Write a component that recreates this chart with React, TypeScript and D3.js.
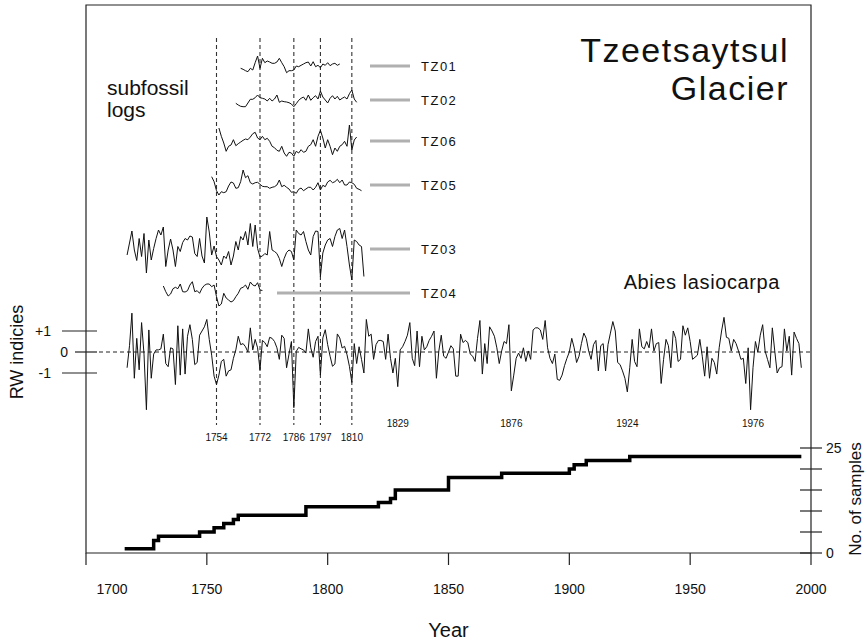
import React, { useEffect, useRef } from 'react';
import * as d3 from 'd3';

// Master ring-width chronology (Abies lasiocarpa), one value per year from chronStart
const chronStart = 1717;
const chronology = [
  -0.75, 0.3, 1.85, -1.25, 0.65, -0.85, 1.4, -0.1, -2.75, 1.05,
  -1.25, -0.1, 0.1, 0.1, 0.15, 0.85, -0.55, -0.7, 0.2, 0.15,
  -1.55, 1.25, -1.1, 1.1, -1.05, 0.75, 1.3, 0.6, -0.6, -0.5,
  0.8, 1.0, 1.2, 1.55, 0.6, -0.15, -1.15, -1.55, -1.1, -0.45,
  -0.35, -1.15, -0.9, -0.85, -0.3, 0.1, 0.75, 0.35, 0.4, 0.25,
  0.0, 1.15, 0.1, 0.6, 0.2, -0.85, 0.55, 0.45, 0.25, 0.7,
  0.65, 0.5, 0.2, -0.35, 0.8, 0.65, -0.75, -0.1, 0.5, -2.65,
  0.03, 0.22, 0.15, 0.1, -0.05, 1.1, 0.2, -0.25, 0.5, 0.75,
  -1.1, 0.67, 1.06, 0.35, -0.2, -0.68, -0.57, 0.86, 0.67, 0.19,
  0.27, -0.13, -0.68, -1.45, 0.4, -0.55, 0.25, -0.35, -1.0, 1.55,
  0.75, 0.85, -0.35, 0.35, 0.55, 0.55, 0.5, -0.35, 0.85, -0.3,
  -1.0, -0.3, -1.65, 0.1, 0.25, 0.5, 0.8, 1.4, -0.3, -0.65,
  1.0, -0.7, 0.75, 0.1, 0.25, 0.55, 0.75, 1.0, -1.25, 0.05,
  0.8, -0.2, -0.3, 0.0, 0.3, 0.15, -1.15, -1.15, 0.85, 0.45,
  0.55, 0.45, -0.1, -0.2, -0.45, 0.65, 1.5, -1.05, 0.4, -0.55,
  1.2, 1.0, 0.75, 0.2, -0.55, 0.05, 0.5, 0.4, 1.3, -1.85,
  -1.1, -0.3, -0.05, -0.3, 0.2, -0.45, 0.05, -0.35, 1.05, 1.15,
  1.15, 1.05, 0.6, 1.5, 0.2, -0.3, -0.55, -0.1, -1.3, -1.35,
  -1.1, -0.65, -0.3, 0.0, 0.65, 0.2, -0.5, -0.2, 0.4, 0.9,
  0.65, 0.05, -0.35, 0.35, 0.55, -0.9, 0.3, 0.4, -0.9, 0.35,
  0.9, 1.45, 1.0, -0.5, -0.6, -0.9, -1.25, -1.9, -0.75, 0.6,
  -0.45, -0.7, 1.1, 0.25, 0.15, 0.5, 0.2, 1.1, 0.05, 0.4,
  0.45, -1.5, -0.35, 0.6, 0.3, -0.75, 1.0, 0.65, -0.45, -0.35,
  1.25, 0.8, 1.15, 0.5, -0.35, -0.25, -0.15, 0.6, -0.2, -1.15,
  0.25, -1.25, -0.3, -0.5, -1.05, 0.2, 1.0, 1.65, 0.7, 0.65,
  0.05, 0.6, 0.4, 0.05, -0.35, -0.3, -1.5, 0.2, -2.75, -0.75,
  0.5, 0.0, 0.8, 1.3, 0.05, -0.35, -0.75, 1.15, 0.05, -1.0,
  -0.75, -0.7, 1.1, 0.05, 0.75, -1.1, 0.95, 0.65, 0.4, -0.75
];

// Subfossil log series (relative ring-width indices)
const tz01Start = 1764;
const tz01 = [
  -0.33, -0.43, -0.57, -0.67, -0.33, -0.5, 0.23, 0.9, -0.33, 0.67,
  0.23, 0.4, 0.3, 0.17, 0.17, 0.3, 0.67, 0.23, -0.17, -0.77,
  -0.57, -0.57, -0.5, -0.1, -0.17, -0.03, 0.1, 0.23, 0.3, -0.1,
  0.33, -0.17, -0.03, -0.27, 0.1, -0.03, 0.23, -0.07, 0.1, 0.17,
  -0.03, 0.1
];
const tz02Start = 1762;
const tz02 = [
  -0.33, -0.5, -0.63, -0.67, -0.67, -0.3, 0.07, 0.07, 0.23, 0.5,
  0.23, 0.17, 0.1, -0.1, 0.17, -0.1, 0.1, 0.5, -0.23, -0.1,
  -0.17, -0.2, -0.27, -0.4, -0.67, -0.37, -0.03, 0.17, 0.3, -0.03,
  0.5, -0.03, 0.23, 0.43, 0.1, 0.9, 0.3, 0.0, -0.3, 0.17,
  0.43, 0.1, 0.37, 0.0, 0.17, 0.3, 0.1, 0.63, 1.0, 0.1,
  -0.23
];
const tz06Start = 1755;
const tz06 = [
  1.5, 0.67, 0, -0.83, -0.33, -0.2, 0.33, -0.27, -0.07, 0.1,
  0.27, 0.4, 0.33, 0.6, 0.93, 1.07, 0.5, 0.33, 0.67, 0.33,
  0.47, 0.17, -0.33, -0.47, -0.73, -0.83, -0.33, -1.0, -1.33, -0.93,
  -1.0, -1.33, -0.83, -1.0, -0.67, -0.93, -0.83, -0.33, -0.17, 0.33,
  -0.33, 0.67, 1.27, 0.5, -0.5, 0.33, -0.33, -1.17, -0.5, -0.83,
  -0.33, -0.17, 0.17, -0.33, 1.8, -0.7, 0.3, 0.6
];
const tz05Start = 1752;
const tz05 = [
  0.93, 0.43, -0.47, -0.9, -0.57, -0.67, -0.57, 0, 0.4, 0.3,
  -0.23, -0.17, 0.43, 1.6, 0.83, 1.03, 0.33, 0.2, 0.33, 0.37,
  0.17, -0.03, -0.07, -0.07, -0.23, -0.13, -0.07, 0.1, 0.6, -0.07,
  0.07, -0.13, -0.3, -0.63, -0.57, -0.73, -0.33, -0.2, -0.47, -0.3,
  -0.13, -0.13, -0.4, -0.13, 0.33, -0.4, 0.07, -0.07, 0.4, 0.57,
  0.33, 0.43, 0.67, 0.33, 0.6, 0.1, 0.1, 0.4, 0.33, 0.17,
  -0.23, -0.33, -0.47
];
const tz03Start = 1717;
const tz03 = [
  -0.5, 0.7, 1.9, 0.0, -1.05, 1.15, -0.65, 1.65, -2.3, 1.0,
  -1.0, 0.15, 1.15, 2.0, 1.5, 2.3, -1.65, 0.0, 1.1, 0.0,
  -1.65, 0.35, -0.15, 0.75, 1.15, 1.0, 1.4, 1.3, -0.35, -0.65,
  1.15, -0.6, -1.3, 3.3, 1.8, -0.5, 0.4, -0.65, -1.0, -1.5,
  -0.6, -0.85, -0.15, -1.5, -0.6, 0.85, 0.0, 1.35, 1.0, 1.85,
  0.5, 2.65, 0.35, 2.5, 0.15, -0.7, -0.6, -0.35, -0.5, 1.85,
  0.0, -0.15, -0.35, -0.85, -1.65, -0.85, -0.25, 0.0, -0.15, -1.0,
  2.0, 1.65, 1.5, 1.85, 0.85, 0.0, -0.5, 1.35, 1.9, 1.85,
  -2.65, -0.3, 0.5, 1.0, 1.15, 0.35, 1.35, 2.0, 2.15, 1.15,
  2.0, 0.35, -1.5, -3.0, 1.0, 0.85, 0.5, 0.35, -2.65
];
const tz04Start = 1732;
const tz04 = [
  0.4, -0.17, -0.6, -0.4, 0.13, 0.27, 0.13, 0.6, -0.17, -0.2,
  -0.07, 0.5, 0.83, -0.17, -0.07, -0.33, 0.17, 0.47, 0.6, 0.6,
  0.33, 0.5, -0.67, -1.6, -1.4, -0.33, -0.8, -1.0, -1.2, -1.07,
  -0.67, -0.33, 0.17, 0.27, 0.5, 0.07, 0.8, 0.5, 0.4, 0.73,
  0.0, -0.05
];

// Sample depth: year where the count changes, and the new count
const depthYears = [1716, 1728, 1730, 1747, 1753, 1757, 1761, 1763, 1791, 1821, 1826, 1828, 1850, 1872, 1900, 1902, 1907, 1925, 1996];
const depthCounts = [1, 3, 4, 5, 6, 7, 8, 9, 11, 12, 13, 15, 18, 19, 20, 21, 22, 23, 23];

// Marker years (dashed lines) and other pointer years
const markerYears = [1754, 1772, 1786, 1797, 1810];
const noteYears = [1829, 1876, 1924, 1976];

const xTicks = [1700, 1750, 1800, 1850, 1900, 1950, 2000];
const rwTicks = [1, 0, -1];
const rwTickLabels = ['+1', '0', '-1'];
const depthTicks = [0, 5, 10, 15, 20, 25];
const depthTickLabels = ['0', '', '', '', '', '25'];

const FONT = '"Liberation Sans", Arial, Helvetica, sans-serif';

const App: React.FC = () => {
  const svgRef = useRef<SVGSVGElement>(null);

  useEffect(() => {
    document.body.style.margin = '0';
    if (!svgRef.current) return;
    const svg = d3.select(svgRef.current);
    svg.selectAll('*').remove();

    const top = 5;
    const axisY = 553;
    const x = d3.scaleLinear().domain([1700, 2000]).range([86, 811]);
    const yRW = d3.scaleLinear().domain([-1, 1]).range([373, 331]);
    const yDepth = d3.scaleLinear().domain([0, 25]).range([axisY, 448]);

    // Frame
    svg.append('path')
      .attr('d', `M${x(1700)},${axisY}V${top}H${x(2000)}V${axisY}Z`)
      .attr('fill', 'none')
      .attr('stroke', '#222')
      .attr('stroke-width', 1.2);

    // Bottom axis ticks + labels (first label sits inside the frame corner)
    const xt = svg.append('g');
    xt.selectAll('line')
      .data(xTicks)
      .join('line')
      .attr('x1', d => x(d)).attr('x2', d => x(d))
      .attr('y1', axisY).attr('y2', axisY + 12)
      .attr('stroke', '#222').attr('stroke-width', 1.2);
    xt.selectAll('text')
      .data(xTicks)
      .join('text')
      .attr('x', (d, i) => x(d) + (i === 0 ? 26 : 0))
      .attr('y', axisY + 41)
      .attr('text-anchor', 'middle')
      .style('font-size', '14px')
      .style('fill', '#111')
      .text(d => d);

    svg.append('text')
      .attr('x', (x(1700) + x(2000)) / 2)
      .attr('y', 637)
      .attr('text-anchor', 'middle')
      .style('font-size', '20px')
      .style('fill', '#111')
      .text('Year');

    // Marker dashed lines
    svg.append('g')
      .selectAll('line')
      .data(markerYears)
      .join('line')
      .attr('x1', d => x(d)).attr('x2', d => x(d))
      .attr('y1', 38).attr('y2', 425)
      .attr('stroke', '#333')
      .attr('stroke-width', 1.1)
      .attr('stroke-dasharray', '4,3');

    svg.append('g')
      .selectAll('text')
      .data(markerYears)
      .join('text')
      .attr('x', d => x(d))
      .attr('y', 441)
      .attr('text-anchor', 'middle')
      .style('font-size', '10px')
      .style('fill', '#111')
      .text(d => d);

    svg.append('g')
      .selectAll('text')
      .data(noteYears)
      .join('text')
      .attr('x', d => x(d))
      .attr('y', 427)
      .attr('text-anchor', 'middle')
      .style('font-size', '10px')
      .style('fill', '#111')
      .text(d => d);

    // RW axis (left)
    const lt = svg.append('g');
    lt.selectAll('line')
      .data(rwTicks)
      .join('line')
      .attr('x1', d => (d === 0 ? 75 : 62))
      .attr('x2', 97)
      .attr('y1', d => yRW(d)).attr('y2', d => yRW(d))
      .attr('stroke', '#222').attr('stroke-width', 1.2);
    lt.selectAll('text')
      .data(rwTicks)
      .join('text')
      .attr('x', d => (d === 0 ? 68 : 51))
      .attr('y', d => yRW(d) + 5)
      .attr('text-anchor', 'end')
      .style('font-size', '14px')
      .style('fill', '#111')
      .text((d, i) => rwTickLabels[i]);

    svg.append('text')
      .attr('transform', `translate(23,352) rotate(-90)`)
      .attr('text-anchor', 'middle')
      .style('font-size', '18px')
      .style('fill', '#111')
      .text('RW indicies');

    // zero line
    svg.append('line')
      .attr('x1', 99).attr('x2', x(2000))
      .attr('y1', yRW(0)).attr('y2', yRW(0))
      .attr('stroke', '#222')
      .attr('stroke-width', 1)
      .attr('stroke-dasharray', '4,3');

    // Master chronology
    const chronLine = d3.line<number>()
      .x((d, i) => x(chronStart + i))
      .y(d => yRW(d));
    svg.append('path')
      .datum(chronology)
      .attr('d', chronLine)
      .attr('fill', 'none')
      .attr('stroke', '#111')
      .attr('stroke-width', 1)
      .attr('stroke-linejoin', 'miter');

    // Subfossil logs
    const logs = [
      { name: 'TZ01', start: tz01Start, values: tz01, cy: 65, bar: [370, 410], by: 66 },
      { name: 'TZ02', start: tz02Start, values: tz02, cy: 100, bar: [370, 410], by: 100 },
      { name: 'TZ06', start: tz06Start, values: tz06, cy: 143, bar: [370, 410], by: 141 },
      { name: 'TZ05', start: tz05Start, values: tz05, cy: 186, bar: [370, 410], by: 185 },
      { name: 'TZ03', start: tz03Start, values: tz03, cy: 250, bar: [370, 410], by: 249 },
      { name: 'TZ04', start: tz04Start, values: tz04, cy: 290, bar: [277, 410], by: 293 }
    ];

    logs.forEach(log => {
      const yS = d3.scaleLinear().domain([-1, 1]).range([log.cy + 10, log.cy - 10]);
      const line = d3.line<number>()
        .x((d, i) => x(log.start + i))
        .y(d => yS(d));
      svg.append('path')
        .datum(log.values)
        .attr('d', line)
        .attr('fill', 'none')
        .attr('stroke', '#111')
        .attr('stroke-width', 1);

      svg.append('line')
        .attr('x1', log.bar[0]).attr('x2', log.bar[1])
        .attr('y1', log.by).attr('y2', log.by)
        .attr('stroke', '#b0b0b0')
        .attr('stroke-width', 3);

      svg.append('text')
        .attr('x', 421)
        .attr('y', log.by + 5)
        .style('font-size', '13px')
        .style('letter-spacing', '1.5px')
        .style('fill', '#111')
        .text(log.name);
    });

    // Sample depth
    const depthLine = d3.line<number>()
      .x((d, i) => x(depthYears[i]))
      .y(d => yDepth(d))
      .curve(d3.curveStepAfter);
    svg.append('path')
      .datum(depthCounts)
      .attr('d', depthLine)
      .attr('fill', 'none')
      .attr('stroke', '#000')
      .attr('stroke-width', 3.5);

    // Right axis (sample depth)
    const rt = svg.append('g');
    rt.selectAll('line')
      .data(depthTicks)
      .join('line')
      .attr('x1', x(2000) - 11).attr('x2', x(2000) + 11)
      .attr('y1', d => yDepth(d)).attr('y2', d => yDepth(d))
      .attr('stroke', '#222').attr('stroke-width', 1.2);
    rt.selectAll('text')
      .data(depthTicks)
      .join('text')
      .attr('x', x(2000) + 15)
      .attr('y', d => yDepth(d) + 5)
      .style('font-size', '14px')
      .style('fill', '#111')
      .text((d, i) => depthTickLabels[i]);

    svg.append('text')
      .attr('transform', `translate(861,499) rotate(-90)`)
      .attr('text-anchor', 'middle')
      .style('font-size', '17px')
      .style('fill', '#111')
      .text('No. of samples');

    // Annotations
    svg.append('text')
      .attr('x', 789).attr('y', 62)
      .attr('text-anchor', 'end')
      .style('font-size', '34px')
      .style('letter-spacing', '1.5px')
      .style('fill', '#111')
      .text('Tzeetsaytsul');
    svg.append('text')
      .attr('x', 789).attr('y', 100)
      .attr('text-anchor', 'end')
      .style('font-size', '34px')
      .style('letter-spacing', '1.5px')
      .style('fill', '#111')
      .text('Glacier');

    svg.append('text')
      .attr('x', 107).attr('y', 95)
      .style('font-size', '21px')
      .style('fill', '#111')
      .text('subfossil');
    svg.append('text')
      .attr('x', 107).attr('y', 117)
      .style('font-size', '21px')
      .style('fill', '#111')
      .text('logs');

    svg.append('text')
      .attr('x', 780).attr('y', 289)
      .attr('text-anchor', 'end')
      .style('font-size', '20px')
      .style('letter-spacing', '0.6px')
      .style('fill', '#111')
      .text('Abies lasiocarpa');
  }, []);

  return (
    <svg
      ref={svgRef}
      width={867}
      height={642}
      style={{ display: 'block', fontFamily: FONT, background: '#fff' }}
    />
  );
};

export default App;
